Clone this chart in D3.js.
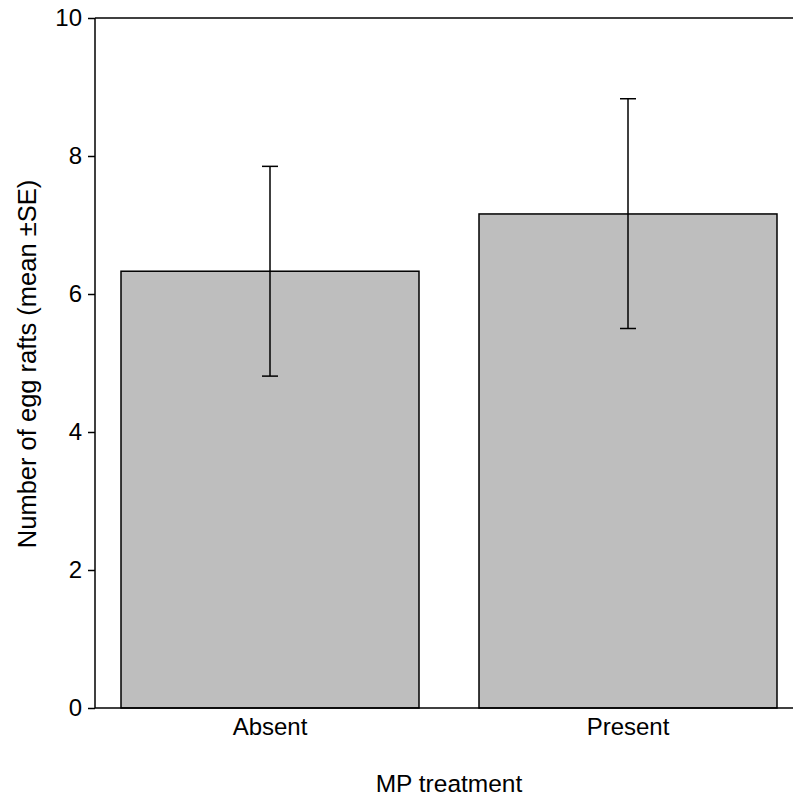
<!DOCTYPE html>
<html>
<head>
<meta charset="utf-8">
<script src="https://cdn.jsdelivr.net/npm/d3@7"></script>
<style>
  body { margin: 0; background: #fff; }
  svg { display: block; }
  text { font-family: "Liberation Sans", Arial, Helvetica, sans-serif; fill: #000; }
</style>
</head>
<body>
<svg id="chart" width="793" height="796"></svg>
<script>
const categories = ["Absent", "Present"];
const means = [6.33, 7.16];
const seUpper = [7.85, 8.83];
const seLower = [4.81, 5.50];
const yTicks = [0, 2, 4, 6, 8, 10];
const xTitle = "MP treatment";
const yTitle = "Number of egg rafts (mean ±SE)";

const svg = d3.select("#chart");
const W = 793, H = 796;
const x0 = 95, yTop = 18, yBottom = 708;

const y = d3.scaleLinear().domain([0, 10]).range([yBottom, yTop]);
const x = d3.scaleBand().domain(categories).range([91, 807])
  .paddingInner(0.1676).paddingOuter(0.0838);

// bars
svg.append("g").selectAll("rect").data(categories).join("rect")
  .attr("x", d => x(d))
  .attr("y", (d, i) => y(means[i]))
  .attr("width", x.bandwidth())
  .attr("height", (d, i) => y(0) - y(means[i]))
  .attr("fill", "#bebebe")
  .attr("stroke", "#000")
  .attr("stroke-width", 1.5);

// error bars
const eb = svg.append("g").attr("stroke", "#000").attr("stroke-width", 1.5);
categories.forEach((c, i) => {
  const cx = x(c) + x.bandwidth() / 2;
  eb.append("line").attr("x1", cx).attr("x2", cx).attr("y1", y(seUpper[i])).attr("y2", y(seLower[i]));
  eb.append("line").attr("x1", cx - 8).attr("x2", cx + 8).attr("y1", y(seUpper[i])).attr("y2", y(seUpper[i]));
  eb.append("line").attr("x1", cx - 8).attr("x2", cx + 8).attr("y1", y(seLower[i])).attr("y2", y(seLower[i]));
});

// frame lines (top and bottom)
svg.append("line").attr("x1", x0).attr("x2", W).attr("y1", y(10)).attr("y2", y(10))
  .attr("stroke", "#000").attr("stroke-width", 1.5);
svg.append("line").attr("x1", x0).attr("x2", W).attr("y1", y(0)).attr("y2", y(0))
  .attr("stroke", "#000").attr("stroke-width", 1.5);

// y axis
const yAxis = svg.append("g").attr("transform", `translate(${x0},0)`)
  .call(d3.axisLeft(y).tickValues(yTicks).tickSize(7).tickPadding(6).tickFormat(d3.format("d")));
yAxis.selectAll("path, line").attr("stroke", "#000").attr("stroke-width", 1.5);
yAxis.select(".domain").attr("d", `M0,${y(0)}V${y(10)}`);
yAxis.selectAll("text").style("font-size", "24px").attr("font-family", null);

// x axis labels
const xAxis = svg.append("g").attr("transform", `translate(0,${y(0)})`)
  .call(d3.axisBottom(x).tickSize(0).tickPadding(10));
xAxis.select(".domain").remove();
xAxis.selectAll("text").style("font-size", "24px").attr("font-family", null);

// titles
svg.append("text").attr("x", (x(categories[0]) + x(categories[1]) + x.bandwidth()) / 2)
  .attr("y", 792).attr("text-anchor", "middle").style("font-size", "24.5px").text(xTitle);
svg.append("text").attr("transform", `translate(36,${(548 + 180) / 2}) rotate(-90)`)
  .attr("text-anchor", "middle").style("font-size", "25.5px").text(yTitle);
</script>
</body>
</html>
